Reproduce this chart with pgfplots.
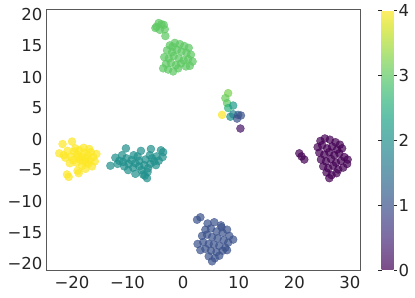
\documentclass[border=0pt]{standalone}
\usepackage{pgfplots}
\pgfplotsset{compat=1.18}
\usepackage{pgfplotstable}
\usepackage{fontspec}
\setmainfont{DejaVu Sans}
\pgfplotstableread{
x y c
-21.7 -0.8 4
-20.0 -0.4 4
-22.3 -2.3 4
-21.5 -2.6 4
-20.8 -1.9 4
-20.2 -2.8 4
-19.6 -2.0 4
-19.1 -2.5 4
-18.7 -1.8 4
-18.3 -2.9 4
-17.8 -2.2 4
-17.2 -2.6 4
-16.6 -2.1 4
-16.2 -2.9 4
-15.9 -3.6 4
-16.8 -3.4 4
-17.5 -3.1 4
-18.0 -3.6 4
-18.6 -3.3 4
-19.2 -3.8 4
-19.8 -3.4 4
-20.4 -3.9 4
-17.1 -4.0 4
-16.4 -4.4 4
-18.2 -4.3 4
-17.6 -4.8 4
-19.0 -5.1 4
-18.8 -5.5 4
-20.9 -5.7 4
-20.6 -6.1 4
-16.9 -1.6 4
-17.9 -1.4 4
-19.4 -1.5 4
-21.2 -3.0 4
-15.6 -2.4 4
-18.9 -2.9 4
-17.4 -3.7 4
-13.1 -4.3 2
-10.3 -1.5 2
-7.6 -1.9 2
-5.8 -1.6 2
-4.0 -1.8 2
-3.6 -2.1 2
-11.0 -2.6 2
-11.5 -3.5 2
-10.8 -3.7 2
-10.2 -3.1 2
-9.8 -4.0 2
-9.3 -3.4 2
-10.6 -4.4 2
-11.8 -4.0 2
-9.0 -4.6 2
-8.6 -3.9 2
-8.2 -2.8 2
-7.9 -4.4 2
-7.5 -5.0 2
-7.0 -4.2 2
-6.8 -3.3 2
-6.4 -5.3 2
-6.0 -2.6 2
-5.6 -3.1 2
-5.2 -3.6 2
-4.8 -2.8 2
-4.4 -3.5 2
-4.9 -4.2 2
-5.9 -4.0 2
-6.3 -4.7 2
-7.2 -5.7 2
-8.6 -5.6 2
-9.9 -5.0 2
-6.5 -6.3 2
-6.9 -5.9 2
-3.7 -2.9 2
-8.9 -2.6 2
-12.2 -3.0 2
-7.9 -3.5 2
-4.4 18.7 3
-3.9 18.5 3
-3.5 18.4 3
-4.8 18.1 3
-5.0 17.9 3
-4.2 17.6 3
-3.3 17.7 3
-3.2 16.6 3
-2.4 15.1 3
-1.5 15.5 3
-0.6 15.3 3
0.2 15.0 3
1.0 14.7 3
-2.9 14.3 3
-2.0 14.0 3
-1.1 14.4 3
-0.3 14.1 3
0.6 13.9 3
1.4 13.6 3
-3.4 13.2 3
-2.6 13.0 3
-1.7 13.4 3
-0.8 13.0 3
0.1 12.7 3
0.9 12.9 3
1.7 12.5 3
-3.1 12.1 3
-2.2 12.3 3
-1.3 11.9 3
-0.4 12.2 3
0.5 11.7 3
1.2 11.8 3
-2.7 11.2 3
-1.8 10.9 3
-0.9 11.4 3
-3.6 11.4 3
-1.9 14.9 3
2.5 -13.0 1
3.1 -12.6 1
4.4 -13.6 1
5.6 -13.4 1
6.8 -13.9 1
7.9 -14.6 1
4.0 -14.6 1
5.0 -14.4 1
6.0 -14.9 1
7.1 -15.1 1
8.3 -15.6 1
9.0 -16.2 1
3.4 -15.6 1
4.3 -15.4 1
5.2 -15.8 1
6.2 -16.0 1
7.3 -16.3 1
8.1 -16.7 1
2.6 -16.9 1
3.6 -16.6 1
4.6 -16.9 1
5.5 -17.0 1
6.5 -17.2 1
7.6 -17.5 1
4.0 -17.7 1
5.0 -18.0 1
6.0 -18.2 1
7.1 -18.0 1
7.9 -17.9 1
4.6 -18.9 1
5.7 -19.2 1
6.5 -18.8 1
5.2 -19.7 1
3.1 -17.9 1
6.9 -14.2 1
20.9 -2.3 0
21.3 -2.8 0
21.8 -3.3 0
24.7 -0.3 0
25.5 0.1 0
26.4 -0.1 0
27.4 -0.5 0
28.2 -0.9 0
24.2 -1.3 0
25.0 -1.0 0
25.9 -1.5 0
26.8 -1.2 0
27.7 -1.7 0
28.6 -1.5 0
24.5 -2.2 0
25.4 -2.5 0
26.3 -2.1 0
27.2 -2.6 0
28.1 -2.3 0
29.0 -2.9 0
24.8 -3.3 0
25.7 -3.6 0
26.6 -3.2 0
27.5 -3.8 0
28.4 -3.5 0
29.5 -4.0 0
25.2 -4.4 0
26.1 -4.7 0
27.0 -4.3 0
27.9 -4.9 0
28.8 -4.6 0
25.8 -5.4 0
26.7 -5.8 0
27.6 -5.5 0
26.3 -6.3 0
29.6 -3.3 0
8.1 7.4 3.2
7.6 6.6 3.1
7.9 5.8 3.0
8.1 5.0 2.6
9.0 5.4 2.2
7.0 3.9 4
8.5 3.6 2.0
9.0 4.0 1.8
9.9 3.9 1.2
9.7 3.3 1.0
10.4 3.8 1.0
10.3 1.7 0.2
}\pts
\begin{document}
\begin{tikzpicture}
\useasboundingbox (-47bp,-28bp) rectangle (368bp,270bp);
\begin{axis}[
  scale only axis,
  width=314bp, height=260bp,
  xmin=-24.5, xmax=32.0,
  ymin=-21.1, ymax=20.8,
  xtick={-20,-10,0,10,20,30},
  xticklabels={−20,−10,0,10,20,30},
  ytick={-20,-15,-10,-5,0,5,10,15,20},
  yticklabels={−20,−15,−10,−5,0,5,10,15,20},
  major tick length=0pt,
  axis line style={draw=black!65, line width=1bp},
  tick label style={font=\fontsize{16.5bp}{19bp}\selectfont, text=black!85},
  xticklabel style={yshift=-3bp},
  yticklabel style={xshift=-1bp},
  colormap/viridis,
  point meta min=0, point meta max=4,
  colorbar right,
  colorbar style={
    at={(parent axis.north east)}, anchor=north west, xshift=12bp,
    width=12bp,
    ytick={0,1,2,3,4},
    yticklabels={0,1,2,3,4},
    tick align=outside,
    major tick length=3.5bp,
    tick style={draw=black!85, line width=0.8bp},
    axis line style={draw=none},
    yticklabel style={font=\fontsize{16.5bp}{19bp}\selectfont, text=black!85, xshift=-2bp},
    every axis plot/.append style={opacity=0.7},
  },
]
\addplot[scatter, only marks, mark=*, mark size=4pt, scatter src=explicit,
  opacity=0.7,
  scatter/use mapped color={draw=mapped color, fill=mapped color}]
  table[x=x, y=y, meta=c] {\pts};
\end{axis}
\end{tikzpicture}
\end{document}
